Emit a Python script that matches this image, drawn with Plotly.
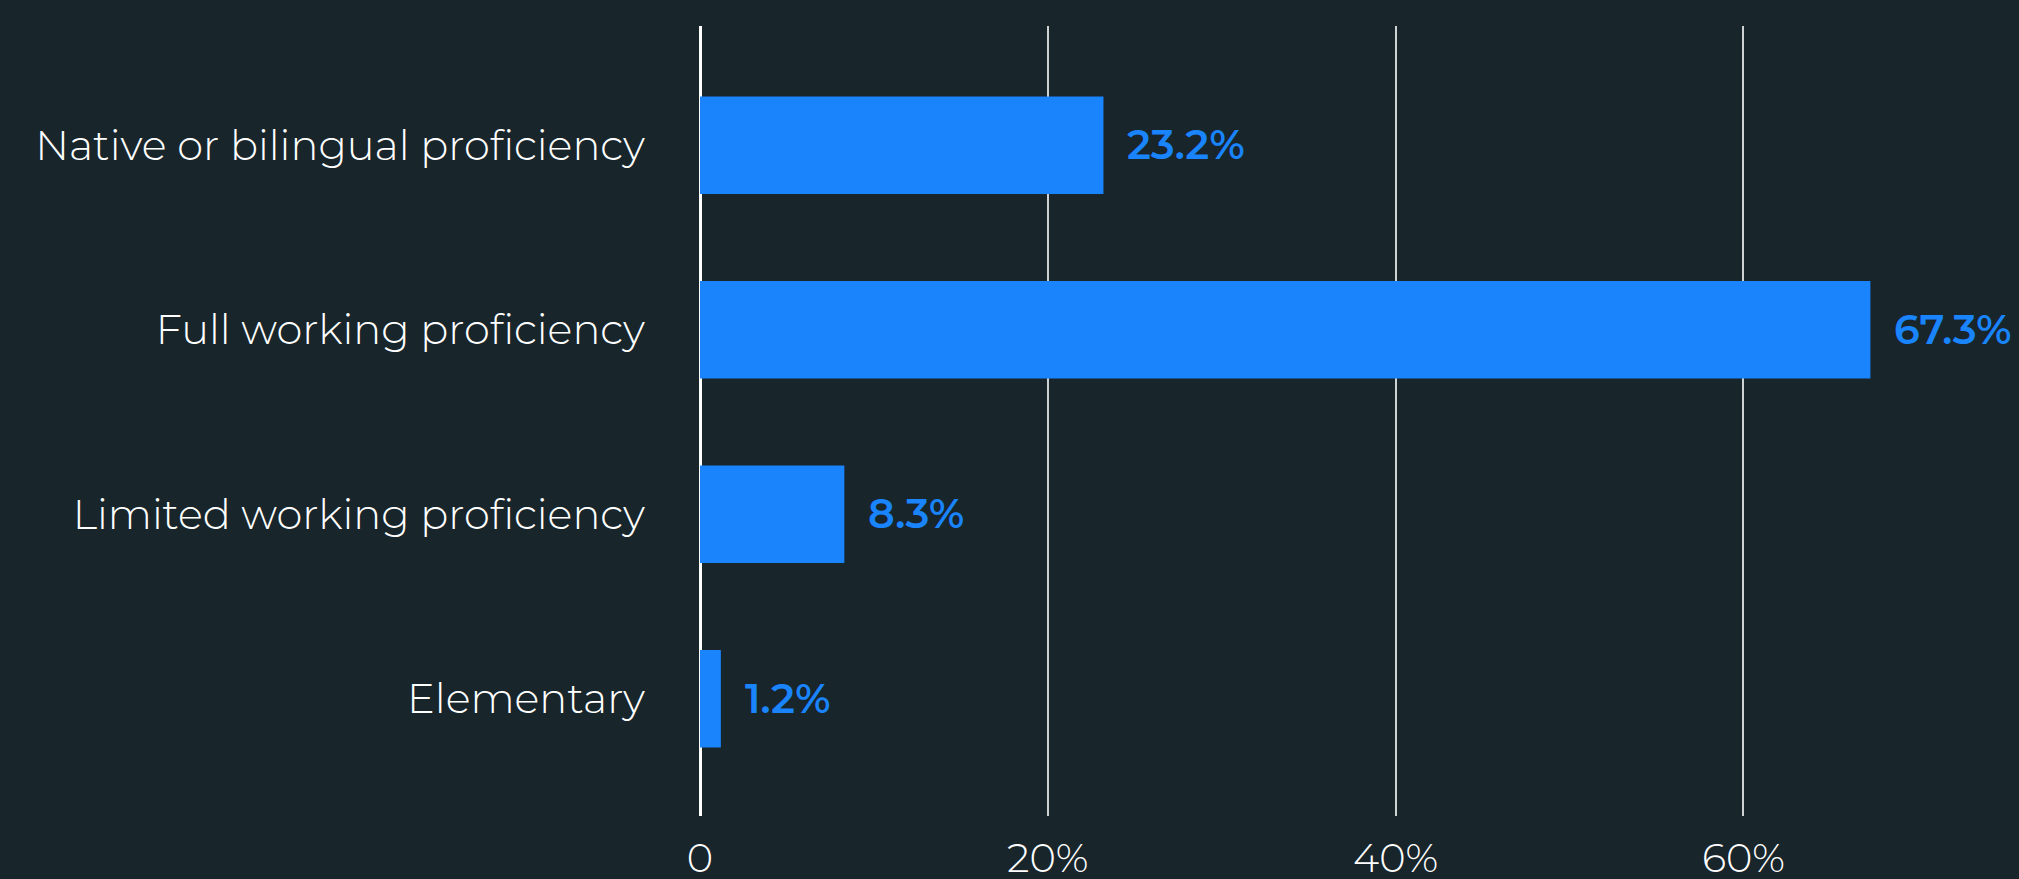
import plotly.graph_objects as go

# Language proficiency shares (percent of respondents)
levels = [
    "Native or bilingual proficiency",
    "Full working proficiency",
    "Limited working proficiency",
    "Elementary",
]
shares = [23.2, 67.3, 8.3, 1.2]

tick_values = [0, 20, 40, 60]
tick_labels = ["0", "20%", "40%", "60%"]

BG = "#18252b"
BAR = "#1984fb"
FONT = "Montserrat, Inter, 'Open Sans', sans-serif"

fig = go.Figure(
    go.Bar(
        x=shares,
        y=levels,
        orientation="h",
        marker=dict(color=BAR, line=dict(width=0)),
        hoverinfo="skip",
    )
)

# value labels just past each bar end
for lvl, val in zip(levels, shares):
    fig.add_annotation(
        x=val,
        y=lvl,
        text=f"{val:.1f}%",
        xref="x",
        yref="y",
        xanchor="left",
        yanchor="middle",
        xshift=22,
        yshift=1,
        showarrow=False,
        font=dict(family=FONT, size=41, color=BAR, weight=600),
    )

fig.update_layout(
    width=2019,
    height=879,
    margin=dict(l=700, r=6, t=26, b=63),
    paper_bgcolor=BG,
    plot_bgcolor=BG,
    showlegend=False,
    bargap=0.472,
    font=dict(family=FONT, color="#ffffff", size=41, weight=300),
)

fig.update_xaxes(
    range=[0, 75.5],
    tickvals=tick_values,
    ticktext=tick_labels,
    showgrid=True,
    gridcolor="#cfd2d3",
    gridwidth=2,
    zeroline=True,
    zerolinecolor="#ffffff",
    zerolinewidth=3,
    showline=False,
    ticks="",
    ticklabelstandoff=15,
    automargin=False,
    tickfont=dict(family=FONT, size=40, color="#ffffff", weight=300),
    fixedrange=True,
)

fig.update_yaxes(
    categoryorder="array",
    categoryarray=levels,
    range=[3.635, -0.646],
    showgrid=False,
    zeroline=False,
    showline=False,
    ticks="",
    ticklabelstandoff=54,
    automargin=False,
    tickfont=dict(family=FONT, size=41.5, color="#ffffff", weight=300),
    fixedrange=True,
)

fig.write_html("out.html", config={"displayModeBar": False})
